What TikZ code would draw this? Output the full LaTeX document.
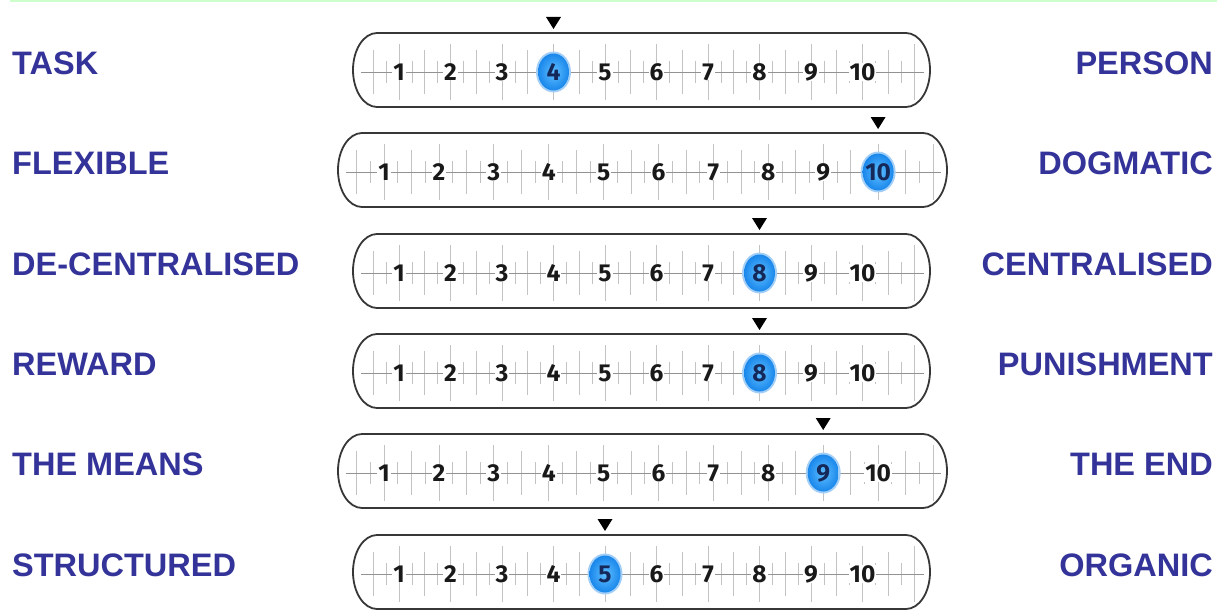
\documentclass[tikz,border=0pt]{standalone}
\usepackage{fontspec}
\setmainfont{Liberation Sans}
\newfontfamily\numfont{Fira Sans}
\definecolor{lblue}{RGB}{51,51,153}
\definecolor{topgreen}{RGB}{204,255,204}
\definecolor{barcol}{RGB}{55,55,55}
\definecolor{tickcol}{RGB}{195,195,195}
\definecolor{hlin}{RGB}{95,190,255}
\definecolor{hlout}{RGB}{25,135,235}
\definecolor{hlnum}{RGB}{20,40,90}
\definecolor{numcol}{RGB}{25,25,25}
\tikzset{
  sidelabel/.style={font=\fontsize{32.5}{36}\selectfont\bfseries, text=lblue, inner sep=0pt},
  leftlabel/.style={sidelabel, anchor=west},
  rightlabel/.style={sidelabel, anchor=east},
  barline/.style={draw=barcol, line width=1.8pt, fill=white},
  tickline/.style={draw=tickcol, line width=0.7pt},
  midline/.style={draw=tickcol!75!black, line width=0.8pt},
  numtxt/.style={font=\numfont\bfseries\fontsize{24.5}{26}\selectfont, text=numcol, inner sep=0pt},
  hlnumtxt/.style={numtxt, text=hlnum},
  hlshade/.style={inner color=hlin, outer color=hlout},
  pointer/.style={fill=black}
}
\begin{document}
\begin{tikzpicture}[x=1pt,y=-1pt]
\useasboundingbox (0,0) rectangle (1223,610);
\fill[topgreen] (10,0) rectangle (1217,2.5);
\foreach \nm/\xl/\xr/\yt/\spc/\hv/\lw/\rw in {
  a/353/930/33/51.5/4/TASK/PERSON,
  b/338/947/133/54.9/10/FLEXIBLE/DOGMATIC,
  c/353/930/234/51.5/8/DE-CENTRALISED/CENTRALISED,
  d/353/930/334/51.5/8/REWARD/PUNISHMENT,
  e/338/947/434/54.9/9/THE MEANS/THE END,
  f/353/930/535/51.5/5/STRUCTURED/ORGANIC}
{
  \pgfmathsetmacro\ly{\yt+30}
  \pgfmathsetmacro\ny{\yt+39}
  \node[leftlabel] (L\nm) at (12,\ly) {\lw};
  \node[rightlabel] (R\nm) at (1213,\ly) {\rw};
  % bar outline
  \path[barline] (\xl+24,\yt) -- (\xr-24,\yt)
     arc[start angle=-90,end angle=90,x radius=24,y radius=37]
     -- (\xl+24,\yt+74)
     arc[start angle=90,end angle=270,x radius=24,y radius=37] -- cycle;
  % ticks
  \foreach \q in {2,...,44}{
    \pgfmathsetmacro\tx{\xl+46+(\q/4-1)*\spc}
    \pgfmathsetmacro\th{mod(\q,4)==0 ? 28 : (mod(\q,2)==0 ? 22 : 11)}
    \draw[tickline] (\tx,\ny-\th) -- (\tx,\ny+\th);
  }
  \draw[midline] (\xl+8,\ny) -- (\xr-6,\ny);
  % highlight and pointer
  \pgfmathsetmacro\hx{\xl+46+(\hv-1)*\spc}
  \fill[hlout!40] (\hx,\ny) ellipse [x radius=17.5, y radius=20.5];
  \shade[hlshade] (\hx,\ny) ellipse [x radius=15.5, y radius=18.5];
  \fill[pointer] (\hx-7.5,\yt-16) -- (\hx+7.5,\yt-16) -- (\hx,\yt-4) -- cycle;
  % numbers
  \foreach \n in {1,...,10}{
    \pgfmathsetmacro\nx{\xl+46+(\n-1)*\spc}
    \ifnum\n=\hv
      \node[hlnumtxt] (N\nm\n) at (\nx,\ny) {\n};
    \else
      \node[numtxt, fill=white, inner xsep=1pt, inner ysep=0pt] (N\nm\n) at (\nx,\ny) {\n};
    \fi
  }
}
\end{tikzpicture}
\end{document}
